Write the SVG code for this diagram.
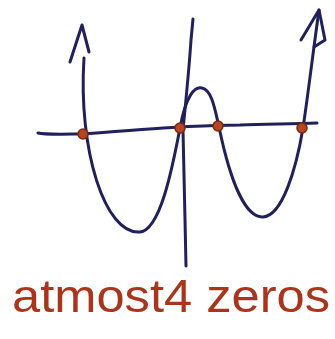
<svg xmlns="http://www.w3.org/2000/svg" width="335" height="339" viewBox="0 0 335 339">
<style>
.ink{fill:none;stroke:#20205a;stroke-width:3;stroke-linecap:round;stroke-linejoin:round}
.dot{fill:#b5461f;stroke:#7a2a14;stroke-width:1.5}
.lbl{font-family:"Liberation Sans",Arial,sans-serif;font-size:46px;fill:#a8351c}
</style>
<rect width="335" height="339" fill="#ffffff"/>
<g id="axes">
<path class="ink" d="M38,133 C45,135 70,134 83,134 C120,131 160,128 180,127 C200,126 215,125 240,125 C270,124 295,124 317,123"/>
<path class="ink" d="M193,19 L191,40 C189,70 186,100 183,130 C184,170 185,220 186,266"/>
</g>
<g id="curve">
<path class="ink" d="M84,58 C78,150 105,235 140,232 C160,230 172,170 180,128 C186,95 195,86 202,88 C212,90 215,110 219,127 C230,180 245,218 263,217 C282,216 296,170 303,128 C308,95 312,60 319,10"/>
<path class="ink" d="M70,62 L82,25 L89,52"/>
<path class="ink" d="M301,40 L319,10 L325,40 L314,47"/>
</g>
<g id="zeros">
<circle class="dot" cx="83" cy="134" r="5"/>
<circle class="dot" cx="180" cy="128" r="5"/>
<circle class="dot" cx="218" cy="126" r="5"/>
<circle class="dot" cx="302" cy="128" r="5"/>
</g>
<g id="label">
<text class="lbl" x="12" y="312" textLength="318" lengthAdjust="spacingAndGlyphs">atmost4 zeros</text>
</g>
</svg>
